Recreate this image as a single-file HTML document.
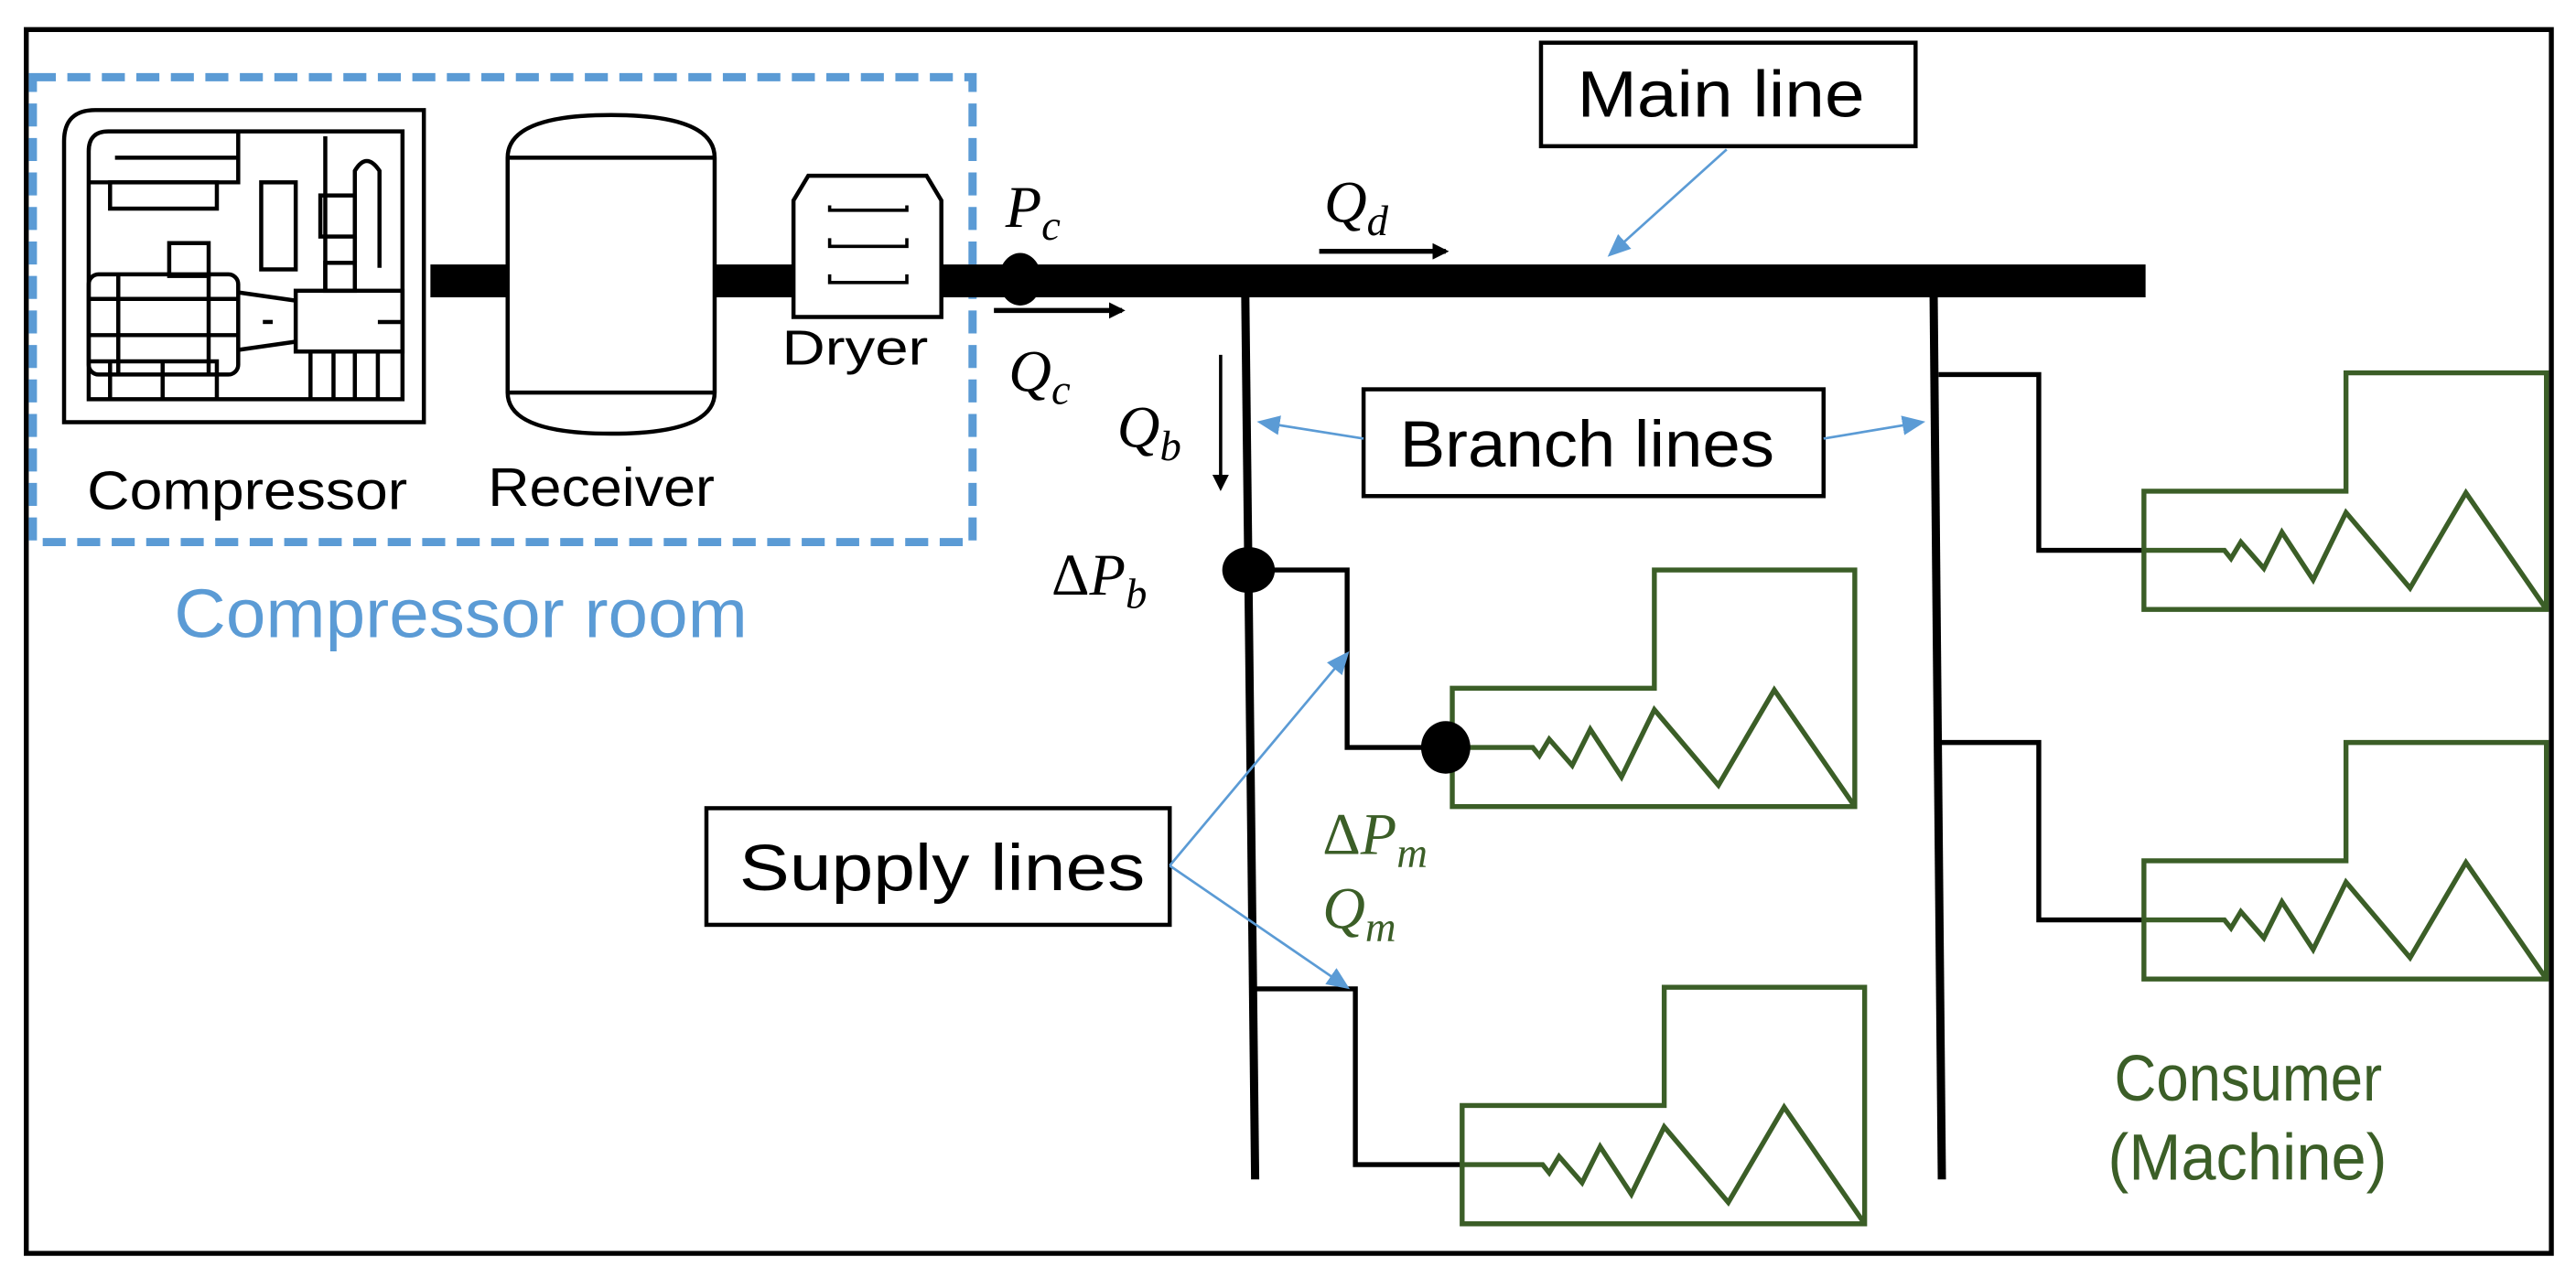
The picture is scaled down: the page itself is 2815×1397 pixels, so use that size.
<!DOCTYPE html>
<html><head><meta charset="utf-8"><style>
html,body{margin:0;padding:0;background:#fff;}
svg{display:block;}
text{font-family:"Liberation Sans",sans-serif;}
.m{font-family:"Liberation Serif",serif;font-style:italic;}
</style></head><body>
<svg width="2815" height="1397" viewBox="0 0 1568 778" preserveAspectRatio="none" xmlns="http://www.w3.org/2000/svg">
<defs>
<marker id="ab" markerWidth="10" markerHeight="10" refX="8" refY="5" orient="auto" markerUnits="userSpaceOnUse"><path d="M0,0 L10,5 L0,10 z" fill="#000"/></marker>
<marker id="bl" markerWidth="14" markerHeight="12" refX="12" refY="6" orient="auto" markerUnits="userSpaceOnUse"><path d="M0,0 L14,6 L0,12 z" fill="#5B9BD5"/></marker>
<g id="mach" fill="none" stroke="#3B5E27" stroke-width="3">
<path d="M0,72 H123 V0 H245 V144 H0 Z"/>
<path d="M0,108 H49 L53,113 L59,103 L73,119 L84,97 L103,126 L123,85 L162,131 L196,73 L245,144"/>
</g>
</defs>
<rect x="16" y="18" width="1537" height="745" fill="none" stroke="#000" stroke-width="3"/>
<rect x="20" y="47" width="572" height="283" fill="none" stroke="#5B9BD5" stroke-width="5" stroke-dasharray="14,7"/>
<!-- compressor -->
<g fill="none" stroke="#000" stroke-width="2.5">
<path d="M58,67 H258 V257 H39 V86 Q39,67 58,67 Z"/>
<path d="M66,80 H245 V243 H54 V92 Q54,80 66,80 Z"/>
<path d="M54,111 H145 V80"/><line x1="70" y1="96" x2="144" y2="96"/>
<rect x="67" y="111" width="65" height="16"/>
<rect x="159" y="111" width="21" height="53"/>
<rect x="103" y="148" width="24" height="20"/>
<rect x="54" y="167" width="91" height="61" rx="6"/>
<line x1="54" y1="182" x2="145" y2="182"/><line x1="54" y1="204" x2="145" y2="204"/>
<line x1="72" y1="167" x2="72" y2="228"/><line x1="127" y1="167" x2="127" y2="228"/>
<path d="M54,220 H132 V243 M99,220 V243 M67,220 V243"/>
<path d="M145,178 L180,183 M145,213 L180,208"/>
<rect x="180" y="177" width="65" height="37"/>
<path d="M189,214 V243 M203,214 V243 M216,214 V243 M230,214 V243"/>
<rect x="195" y="119" width="21" height="25"/>
<rect x="198" y="160" width="18" height="17"/>
<path d="M198,83 V177 M216,144 V160"/>
<path d="M216,163 V104 Q223,92 231,104 V163"/>
<line x1="160" y1="196" x2="166" y2="196"/><line x1="230" y1="196" x2="245" y2="196"/>
</g>
<!-- pipes -->
<rect x="262" y="161" width="48" height="20" fill="#000"/>
<rect x="435" y="161" width="50" height="20" fill="#000"/>
<rect x="573" y="161" width="733" height="20" fill="#000"/>
<!-- receiver -->
<path d="M309,96 Q309,70 372,70 Q435,70 435,96 V239 Q435,264 372,264 Q309,264 309,239 Z" fill="#fff" stroke="#000" stroke-width="2.5"/>
<line x1="309" y1="96" x2="435" y2="96" stroke="#000" stroke-width="2.5"/>
<line x1="309" y1="239" x2="435" y2="239" stroke="#000" stroke-width="2.5"/>
<!-- dryer -->
<path d="M492,107 H564 L573,122 V193 H483 V122 Z" fill="#fff" stroke="#000" stroke-width="2.5"/>
<path d="M505,125 V128 H552 V125 M505,145 V150 H552 V145 M505,167 V172 H552 V167" fill="none" stroke="#000" stroke-width="2"/>
<text x="53" y="310" font-size="33" textLength="195" lengthAdjust="spacingAndGlyphs">Compressor</text>
<text x="297" y="308" font-size="33" textLength="138" lengthAdjust="spacingAndGlyphs">Receiver</text>
<text x="476" y="222" font-size="30" textLength="89" lengthAdjust="spacingAndGlyphs">Dryer</text>
<text x="106" y="388" font-size="42" fill="#5B9BD5" textLength="349" lengthAdjust="spacingAndGlyphs">Compressor room</text>
<ellipse cx="621" cy="170" rx="13" ry="16" fill="#000"/>
<text class="m" x="612" y="138" font-size="36">P<tspan font-size="26" dy="8">c</tspan></text>
<text class="m" x="806" y="135" font-size="36">Q<tspan font-size="26" dy="8">d</tspan></text>
<line x1="803" y1="153" x2="880" y2="153" stroke="#000" stroke-width="3" marker-end="url(#ab)"/>
<line x1="605" y1="189" x2="683" y2="189" stroke="#000" stroke-width="3" marker-end="url(#ab)"/>
<text class="m" x="614" y="238" font-size="36">Q<tspan font-size="26" dy="8">c</tspan></text>
<line x1="743" y1="216" x2="743" y2="297" stroke="#000" stroke-width="2" marker-end="url(#ab)"/>
<text class="m" x="680" y="272" font-size="36">Q<tspan font-size="26" dy="8">b</tspan></text>
<!-- branches -->
<line x1="758" y1="180" x2="764" y2="718" stroke="#000" stroke-width="5"/>
<line x1="1177" y1="180" x2="1182" y2="718" stroke="#000" stroke-width="5"/>
<path d="M760,347 H820 V455 H880" fill="none" stroke="#000" stroke-width="3"/>
<path d="M763,602 H825 V709 H891" fill="none" stroke="#000" stroke-width="3"/>
<path d="M1180,228 H1241 V335 H1305" fill="none" stroke="#000" stroke-width="3"/>
<path d="M1181,452 H1241 V560 H1305" fill="none" stroke="#000" stroke-width="3"/>
<ellipse cx="760" cy="347" rx="16" ry="14" fill="#000"/>
<text class="m" x="640" y="362" font-size="36"><tspan font-style="normal">Δ</tspan>P<tspan font-size="26" dy="8">b</tspan></text>
<use href="#mach" x="884" y="347"/>
<use href="#mach" x="890" y="601"/>
<use href="#mach" x="1305" y="227"/>
<use href="#mach" x="1305" y="452"/>
<ellipse cx="880" cy="455" rx="15" ry="16" fill="#000"/>
<text class="m" x="805" y="520" font-size="36" fill="#3B5E27"><tspan font-style="normal">Δ</tspan>P<tspan font-size="26" dy="8">m</tspan></text>
<text class="m" x="805" y="565" font-size="36" fill="#3B5E27">Q<tspan font-size="26" dy="8">m</tspan></text>
<text x="1287" y="670" font-size="40" fill="#3B5E27" textLength="163" lengthAdjust="spacingAndGlyphs">Consumer</text>
<text x="1283" y="718" font-size="40" fill="#3B5E27" textLength="170" lengthAdjust="spacingAndGlyphs">(Machine)</text>
<!-- label boxes -->
<rect x="938" y="26" width="228" height="63" fill="#fff" stroke="#000" stroke-width="2.5"/>
<text x="960" y="71" font-size="40" textLength="175" lengthAdjust="spacingAndGlyphs">Main line</text>
<line x1="1051" y1="91" x2="980" y2="155" stroke="#5B9BD5" stroke-width="1.5" marker-end="url(#bl)"/>
<rect x="830" y="237" width="280" height="65" fill="#fff" stroke="#000" stroke-width="2.5"/>
<text x="852" y="284" font-size="40" textLength="228" lengthAdjust="spacingAndGlyphs">Branch lines</text>
<line x1="830" y1="267" x2="767" y2="257" stroke="#5B9BD5" stroke-width="1.5" marker-end="url(#bl)"/>
<line x1="1110" y1="267" x2="1170" y2="257" stroke="#5B9BD5" stroke-width="1.5" marker-end="url(#bl)"/>
<rect x="430" y="492" width="282" height="71" fill="#fff" stroke="#000" stroke-width="2.5"/>
<text x="450" y="542" font-size="40" textLength="247" lengthAdjust="spacingAndGlyphs">Supply lines</text>
<line x1="712" y1="527" x2="820" y2="398" stroke="#5B9BD5" stroke-width="1.5" marker-end="url(#bl)"/>
<line x1="712" y1="527" x2="820" y2="601" stroke="#5B9BD5" stroke-width="1.5" marker-end="url(#bl)"/>
</svg>
</body></html>
